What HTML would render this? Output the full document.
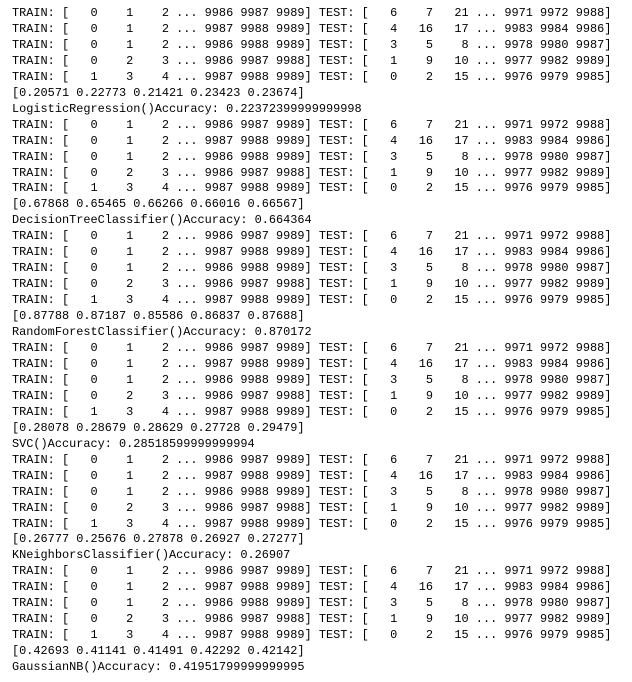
<!DOCTYPE html>
<html><head><meta charset="utf-8"><style>
html,body{margin:0;padding:0;background:#fff;width:632px;height:682px;overflow:hidden}
pre{position:absolute;left:12px;top:6px;margin:0;font-family:"Liberation Mono",monospace;font-size:11.9px;line-height:15.95px;color:#000}
</style></head><body>
<pre>TRAIN: [   0    1    2 ... 9986 9987 9989] TEST: [   6    7   21 ... 9971 9972 9988]
TRAIN: [   0    1    2 ... 9987 9988 9989] TEST: [   4   16   17 ... 9983 9984 9986]
TRAIN: [   0    1    2 ... 9986 9988 9989] TEST: [   3    5    8 ... 9978 9980 9987]
TRAIN: [   0    2    3 ... 9986 9987 9988] TEST: [   1    9   10 ... 9977 9982 9989]
TRAIN: [   1    3    4 ... 9987 9988 9989] TEST: [   0    2   15 ... 9976 9979 9985]
[0.20571 0.22773 0.21421 0.23423 0.23674]
LogisticRegression()Accuracy: 0.22372399999999998
TRAIN: [   0    1    2 ... 9986 9987 9989] TEST: [   6    7   21 ... 9971 9972 9988]
TRAIN: [   0    1    2 ... 9987 9988 9989] TEST: [   4   16   17 ... 9983 9984 9986]
TRAIN: [   0    1    2 ... 9986 9988 9989] TEST: [   3    5    8 ... 9978 9980 9987]
TRAIN: [   0    2    3 ... 9986 9987 9988] TEST: [   1    9   10 ... 9977 9982 9989]
TRAIN: [   1    3    4 ... 9987 9988 9989] TEST: [   0    2   15 ... 9976 9979 9985]
[0.67868 0.65465 0.66266 0.66016 0.66567]
DecisionTreeClassifier()Accuracy: 0.664364
TRAIN: [   0    1    2 ... 9986 9987 9989] TEST: [   6    7   21 ... 9971 9972 9988]
TRAIN: [   0    1    2 ... 9987 9988 9989] TEST: [   4   16   17 ... 9983 9984 9986]
TRAIN: [   0    1    2 ... 9986 9988 9989] TEST: [   3    5    8 ... 9978 9980 9987]
TRAIN: [   0    2    3 ... 9986 9987 9988] TEST: [   1    9   10 ... 9977 9982 9989]
TRAIN: [   1    3    4 ... 9987 9988 9989] TEST: [   0    2   15 ... 9976 9979 9985]
[0.87788 0.87187 0.85586 0.86837 0.87688]
RandomForestClassifier()Accuracy: 0.870172
TRAIN: [   0    1    2 ... 9986 9987 9989] TEST: [   6    7   21 ... 9971 9972 9988]
TRAIN: [   0    1    2 ... 9987 9988 9989] TEST: [   4   16   17 ... 9983 9984 9986]
TRAIN: [   0    1    2 ... 9986 9988 9989] TEST: [   3    5    8 ... 9978 9980 9987]
TRAIN: [   0    2    3 ... 9986 9987 9988] TEST: [   1    9   10 ... 9977 9982 9989]
TRAIN: [   1    3    4 ... 9987 9988 9989] TEST: [   0    2   15 ... 9976 9979 9985]
[0.28078 0.28679 0.28629 0.27728 0.29479]
SVC()Accuracy: 0.28518599999999994
TRAIN: [   0    1    2 ... 9986 9987 9989] TEST: [   6    7   21 ... 9971 9972 9988]
TRAIN: [   0    1    2 ... 9987 9988 9989] TEST: [   4   16   17 ... 9983 9984 9986]
TRAIN: [   0    1    2 ... 9986 9988 9989] TEST: [   3    5    8 ... 9978 9980 9987]
TRAIN: [   0    2    3 ... 9986 9987 9988] TEST: [   1    9   10 ... 9977 9982 9989]
TRAIN: [   1    3    4 ... 9987 9988 9989] TEST: [   0    2   15 ... 9976 9979 9985]
[0.26777 0.25676 0.27878 0.26927 0.27277]
KNeighborsClassifier()Accuracy: 0.26907
TRAIN: [   0    1    2 ... 9986 9987 9989] TEST: [   6    7   21 ... 9971 9972 9988]
TRAIN: [   0    1    2 ... 9987 9988 9989] TEST: [   4   16   17 ... 9983 9984 9986]
TRAIN: [   0    1    2 ... 9986 9988 9989] TEST: [   3    5    8 ... 9978 9980 9987]
TRAIN: [   0    2    3 ... 9986 9987 9988] TEST: [   1    9   10 ... 9977 9982 9989]
TRAIN: [   1    3    4 ... 9987 9988 9989] TEST: [   0    2   15 ... 9976 9979 9985]
[0.42693 0.41141 0.41491 0.42292 0.42142]
GaussianNB()Accuracy: 0.41951799999999995</pre>
</body></html>
